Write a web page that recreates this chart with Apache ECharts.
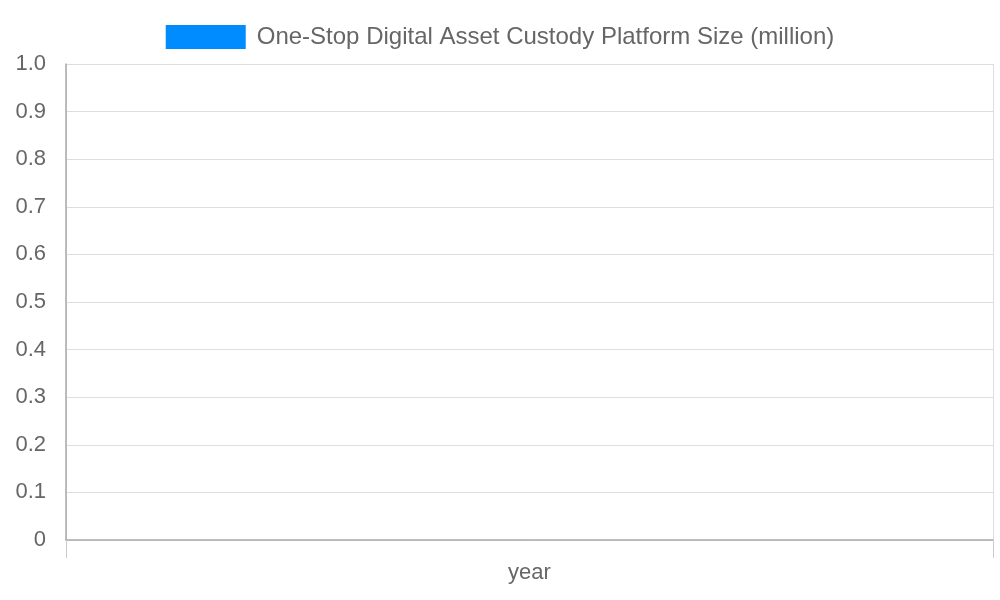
<!DOCTYPE html>
<html><head><meta charset="utf-8">
<script src="https://cdn.jsdelivr.net/npm/echarts@6/dist/echarts.min.js"></script>
<style>html,body{margin:0;padding:0;background:#fff}#c{width:1000px;height:600px}</style>
</head><body><div id="c"></div>
<script>
const categories = ['year'];
const seriesName = 'One-Stop Digital Asset Custody Platform Size (million)';
const values = ['-'];
const yTicks = {min: 0, max: 1, interval: 0.1};

const chart = echarts.init(document.getElementById('c'));
chart.setOption({
  animation: false,
  textStyle: {fontFamily: 'Liberation Sans, Arial, sans-serif'},
  legend: {
    top: 20, left: 'center', itemWidth: 80, itemHeight: 24, itemGap: 10,
    icon: 'rect',
    textStyle: {color: '#666', fontSize: 24, padding: [0, 0, 0, 6], fontFamily: 'Liberation Sans'},
    data: [seriesName]
  },
  grid: {left: 66, right: 7, top: 64, bottom: 60, containLabel: false},
  xAxis: {
    type: 'category', data: categories,
    axisLine: {lineStyle: {color: '#aaa', width: 1.5}},
    axisTick: {show: true, length: 18, lineStyle: {color: '#ccc'}},
    splitLine: {show: true, lineStyle: {color: '#ddd'}},
    axisLabel: {color: '#666', fontSize: 22, margin: 22, fontFamily: 'Liberation Sans'}
  },
  yAxis: {
    type: 'value', min: yTicks.min, max: yTicks.max, interval: yTicks.interval,
    axisLine: {show: true, lineStyle: {color: '#aaa', width: 1.5}},
    axisTick: {show: false},
    splitLine: {lineStyle: {color: '#ddd'}},
    axisLabel: {color: '#666', fontSize: 22, margin: 20, fontFamily: 'Liberation Sans',
      formatter: v => v === 0 ? '0' : v.toFixed(1)}
  },
  series: [{name: seriesName, type: 'bar', data: values, itemStyle: {color: '#008cff'}}]
});
</script></body></html>
